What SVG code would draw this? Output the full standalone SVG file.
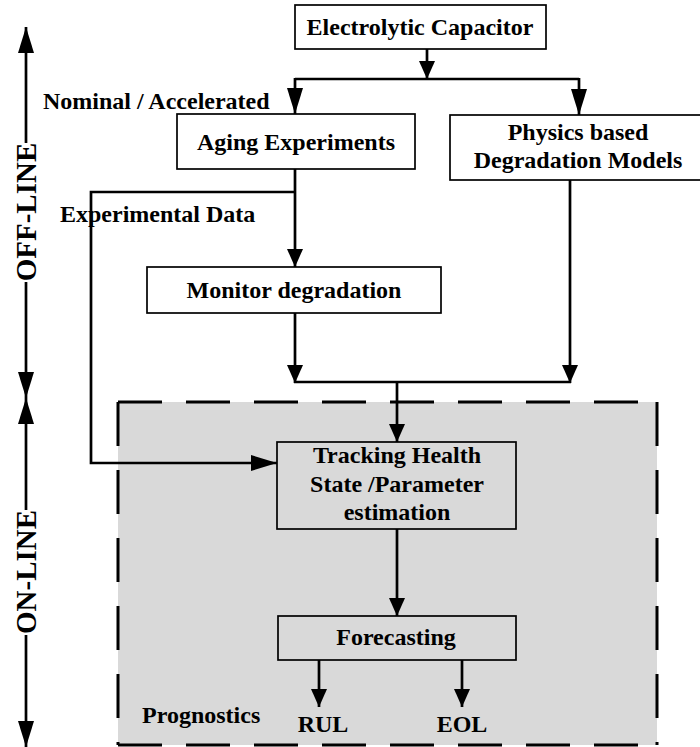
<svg xmlns="http://www.w3.org/2000/svg" width="700" height="747" viewBox="0 0 700 747">
  <defs>
    <marker id="arrow" markerUnits="userSpaceOnUse" markerWidth="18" markerHeight="16" refX="18" refY="8" orient="auto">
      <path d="M0,0 L18,8 L0,16 Z" fill="#000"/>
    </marker>
    <marker id="arrowLong" markerUnits="userSpaceOnUse" markerWidth="26" markerHeight="16" refX="26" refY="8" orient="auto">
      <path d="M0,0 L26,8 L0,16 Z" fill="#000"/>
    </marker>
    <style>
      .box { fill: #fff; stroke: #000; stroke-width: 1.7; }
      .box-in { fill: #d9d9d9; stroke: #000; stroke-width: 1.7; }
      .t { font-family: "Liberation Serif", "Times New Roman", serif; font-weight: bold; font-size: 24px; fill: #000; }
      .c { text-anchor: middle; }
      .side { font-family: "Liberation Serif", "Times New Roman", serif; font-weight: bold; font-size: 29px; fill: #000; text-anchor: middle; }
      .ln { fill: none; stroke: #000; stroke-width: 2.7; }
      .dash { fill: none; stroke: #000; stroke-width: 3; stroke-dasharray: 44 24; }
      .ar { marker-end: url(#arrow); }
      .arl { marker-end: url(#arrowLong); }
    </style>
  </defs>

  <!-- on-line prognostics region -->
  <g id="prognostics-region">
    <rect x="118" y="402" width="539" height="343" fill="#d9d9d9"/>
    <path class="dash" d="M118,402 H657"/>
    <path class="dash" d="M657,402 V745"/>
    <path class="dash" d="M118,745 H657"/>
    <path class="dash" d="M118,402 V745"/>
    <text class="t" x="142" y="723">Prognostics</text>
  </g>

  <!-- side timeline arrows -->
  <g id="offline-axis">
    <line class="ln arl" x1="26" y1="143" x2="26" y2="27"/>
    <line class="ln arl" x1="26" y1="282" x2="26" y2="398"/>
    <text class="side" transform="translate(36,212) rotate(-90)">OFF-LINE</text>
  </g>
  <g id="online-axis">
    <line class="ln arl" x1="26" y1="510" x2="26" y2="398"/>
    <line class="ln arl" x1="26" y1="635" x2="26" y2="747"/>
    <text class="side" transform="translate(36,572) rotate(-90)">ON-LINE</text>
  </g>

  <!-- nodes -->
  <g id="capacitor">
    <rect class="box" x="295" y="5" width="251" height="44"/>
    <text class="t c" x="420" y="35">Electrolytic Capacitor</text>
  </g>
  <g id="aging">
    <rect class="box" x="177" y="114" width="238" height="55"/>
    <text class="t c" x="296" y="150">Aging Experiments</text>
  </g>
  <g id="physics">
    <rect class="box" x="450" y="115" width="252" height="65"/>
    <text class="t c" x="578" y="140">Physics based</text>
    <text class="t c" x="578" y="168">Degradation Models</text>
  </g>
  <g id="monitor">
    <rect class="box" x="147" y="267" width="294" height="46"/>
    <text class="t c" x="294" y="298">Monitor degradation</text>
  </g>
  <g id="tracking">
    <rect class="box-in" x="277" y="442" width="239" height="87"/>
    <text class="t c" x="397" y="463">Tracking Health</text>
    <text class="t c" x="397" y="492">State /Parameter</text>
    <text class="t c" x="397" y="520">estimation</text>
  </g>
  <g id="forecasting">
    <rect class="box-in" x="278" y="616" width="238" height="44"/>
    <text class="t c" x="396" y="645">Forecasting</text>
  </g>
  <g id="rul">
    <text class="t c" x="323" y="732">RUL</text>
  </g>
  <g id="eol">
    <text class="t c" x="462" y="732">EOL</text>
  </g>

  <!-- connectors -->
  <g id="connectors">
    <line class="ln ar" x1="427" y1="49" x2="427" y2="79"/>
    <path class="ln" d="M295,79 H579"/>
    <line class="ln arl" x1="295" y1="78" x2="295" y2="114"/>
    <line class="ln arl" x1="579" y1="78" x2="579" y2="115"/>
    <line class="ln ar" x1="295" y1="169" x2="295" y2="267"/>
    <path class="ln arl" d="M295,192 H91 V463 H277"/>
    <line class="ln ar" x1="295" y1="313" x2="295" y2="383"/>
    <line class="ln ar" x1="570" y1="180" x2="570" y2="383"/>
    <path class="ln" d="M294,382 H571"/>
    <line class="ln ar" x1="397" y1="382" x2="397" y2="442"/>
    <line class="ln ar" x1="397" y1="529" x2="397" y2="616"/>
    <line class="ln ar" x1="319" y1="660" x2="319" y2="707"/>
    <line class="ln ar" x1="462" y1="660" x2="462" y2="707"/>
    <text class="t" x="43" y="109">Nominal / Accelerated</text>
    <text class="t" x="60" y="222">Experimental Data</text>
  </g>
</svg>
